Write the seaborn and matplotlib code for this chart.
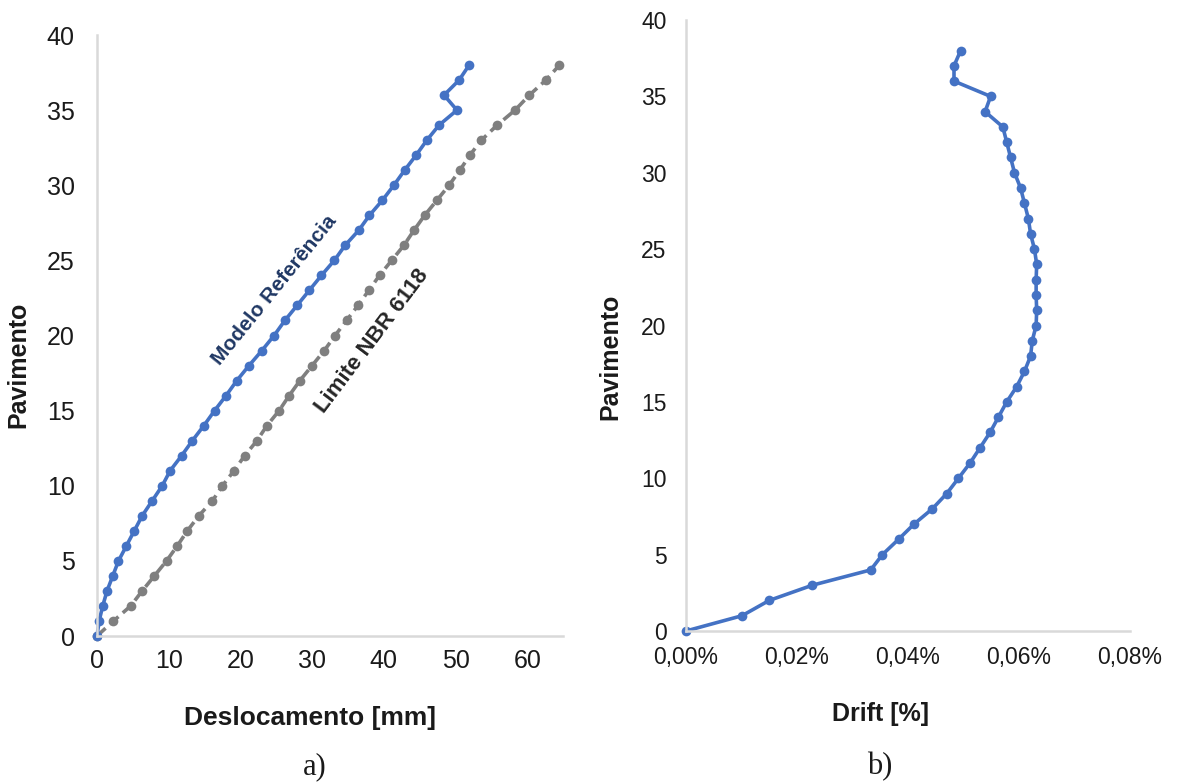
import matplotlib
matplotlib.use("Agg")
import matplotlib.pyplot as plt
import matplotlib.ticker as mticker
import numpy as np
import pandas as pd
import seaborn as sns

# Floors (pavimentos) 0..38
pavimentos = list(range(39))

# Lateral displacement of the reference model [mm]
desloc_modelo = [0.0, 0.3, 0.8, 1.4, 2.2, 3.0, 4.1, 5.2, 6.3, 7.7,
                 9.1, 10.2, 11.8, 13.3, 14.9, 16.4, 18.0, 19.5, 21.2, 23.0,
                 24.7, 26.2, 27.9, 29.6, 31.3, 33.1, 34.6, 36.5, 38.0, 39.8,
                 41.4, 42.9, 44.5, 46.0, 47.7, 50.2, 48.4, 50.5, 51.9]

# NBR 6118 displacement limit [mm]
desloc_limite = [0.0, 2.3, 4.7, 6.3, 8.0, 9.7, 11.2, 12.6, 14.2, 16.1,
                 17.5, 19.1, 20.6, 22.3, 23.7, 25.4, 26.8, 28.3, 30.0, 31.7,
                 33.2, 34.8, 36.4, 37.9, 39.4, 41.1, 42.8, 44.2, 45.7, 47.4,
                 49.1, 50.6, 52.0, 53.6, 55.8, 58.3, 60.3, 62.6, 64.5]

# Inter-storey drift [%]
drift = [0.0000, 0.0101, 0.0150, 0.0228, 0.0333, 0.0354, 0.0383, 0.0411, 0.0444, 0.0470,
         0.0491, 0.0512, 0.0530, 0.0548, 0.0563, 0.0578, 0.0596, 0.0610, 0.0621, 0.0624,
         0.0631, 0.0632, 0.0631, 0.0631, 0.0632, 0.0628, 0.0621, 0.0617, 0.0610, 0.0603,
         0.0592, 0.0585, 0.0578, 0.0571, 0.0539, 0.0549, 0.0483, 0.0483, 0.0495]

x_ticks_a = [0, 10, 20, 30, 40, 50, 60]
x_ticks_b = [0.00, 0.02, 0.04, 0.06, 0.08]
y_ticks = [0, 5, 10, 15, 20, 25, 30, 35, 40]

BLUE = "#4472C4"
GREY = "#7F7F7F"
SPINE = "#D9D9D9"
TXT = "#1A1A1A"

sns.set_theme(style="white")
plt.rcParams["font.family"] = ["Liberation Sans", "DejaVu Sans"]

df_a = pd.DataFrame({"pav": pavimentos, "modelo": desloc_modelo, "limite": desloc_limite})
df_b = pd.DataFrame({"pav": pavimentos, "drift": drift})

fig = plt.figure(figsize=(11.77, 7.82), dpi=100)
ax_a = fig.add_axes([0.0824, 0.1867, 0.396, 0.7685])
ax_b = fig.add_axes([0.5828, 0.1931, 0.3772, 0.7813])

# --- a) displacement profile ---
sns.lineplot(data=df_a, x="limite", y="pav", sort=False, estimator=None, ax=ax_a,
             color=GREY, linewidth=2.6, linestyle=(0, (3.2, 1.6)),
             marker="o", markersize=7, markeredgewidth=0)
sns.lineplot(data=df_a, x="modelo", y="pav", sort=False, estimator=None, ax=ax_a,
             color=BLUE, linewidth=2.6, marker="o", markersize=7, markeredgewidth=0)

ax_a.set_xlim(0, 65)
ax_a.set_ylim(0, 40)
ax_a.set_xticks(x_ticks_a)
ax_a.set_yticks(y_ticks)
ax_a.tick_params(axis="both", length=0, labelsize=18, colors=TXT)
ax_a.tick_params(axis="y", pad=16)
ax_a.tick_params(axis="x", pad=9)
ax_a.set_xlabel("Deslocamento [mm]", fontsize=19, fontweight="bold", color=TXT)
ax_a.set_ylabel("Pavimento", fontsize=18, fontweight="bold", color=TXT)
ax_a.xaxis.set_label_coords(0.458, -0.117)
ax_a.yaxis.set_label_coords(-0.142, 0.451)

ax_a.text(24.7, 23.0, "Modelo Referência", rotation=51, rotation_mode="anchor",
          ha="center", va="center", fontsize=15, fontweight="bold", color="#203864")
ax_a.text(38.3, 19.6, "Limite NBR 6118", rotation=53, rotation_mode="anchor",
          ha="center", va="center", fontsize=16, fontweight="bold", color="#262626")

# --- b) drift profile ---
sns.lineplot(data=df_b, x="drift", y="pav", sort=False, estimator=None, ax=ax_b,
             color=BLUE, linewidth=2.6, marker="o", markersize=7, markeredgewidth=0)

ax_b.set_xlim(0, 0.08)
ax_b.set_ylim(0, 40)
ax_b.set_xticks(x_ticks_b)
ax_b.set_yticks(y_ticks)
ax_b.xaxis.set_major_formatter(mticker.FuncFormatter(lambda v, p: f"{v:.2f}%".replace(".", ",")))
ax_b.tick_params(axis="both", length=0, labelsize=16.5, colors=TXT)
ax_b.tick_params(axis="y", pad=14)
ax_b.tick_params(axis="x", pad=11)
ax_b.set_xlabel("Drift [%]", fontsize=18, fontweight="bold", color=TXT)
ax_b.set_ylabel("Pavimento", fontsize=18, fontweight="bold", color=TXT)
ax_b.xaxis.set_label_coords(0.439, -0.116)
ax_b.yaxis.set_label_coords(-0.144, 0.448)

for ax in (ax_a, ax_b):
    for side in ("top", "right"):
        ax.spines[side].set_visible(False)
    for side in ("left", "bottom"):
        ax.spines[side].set_color(SPINE)
        ax.spines[side].set_linewidth(1.8)
    for ln in ax.lines:
        ln.set_clip_on(False)

fig.text(315 / 1177, 1 - 767 / 782, "a)", ha="center", va="center",
         fontsize=22, family=["Liberation Serif", "DejaVu Serif"], color=TXT)
fig.text(880 / 1177, 1 - 767 / 782, "b)", ha="center", va="center",
         fontsize=22, family=["Liberation Serif", "DejaVu Serif"], color=TXT)

fig.savefig("out.png", dpi=100, facecolor="white")
